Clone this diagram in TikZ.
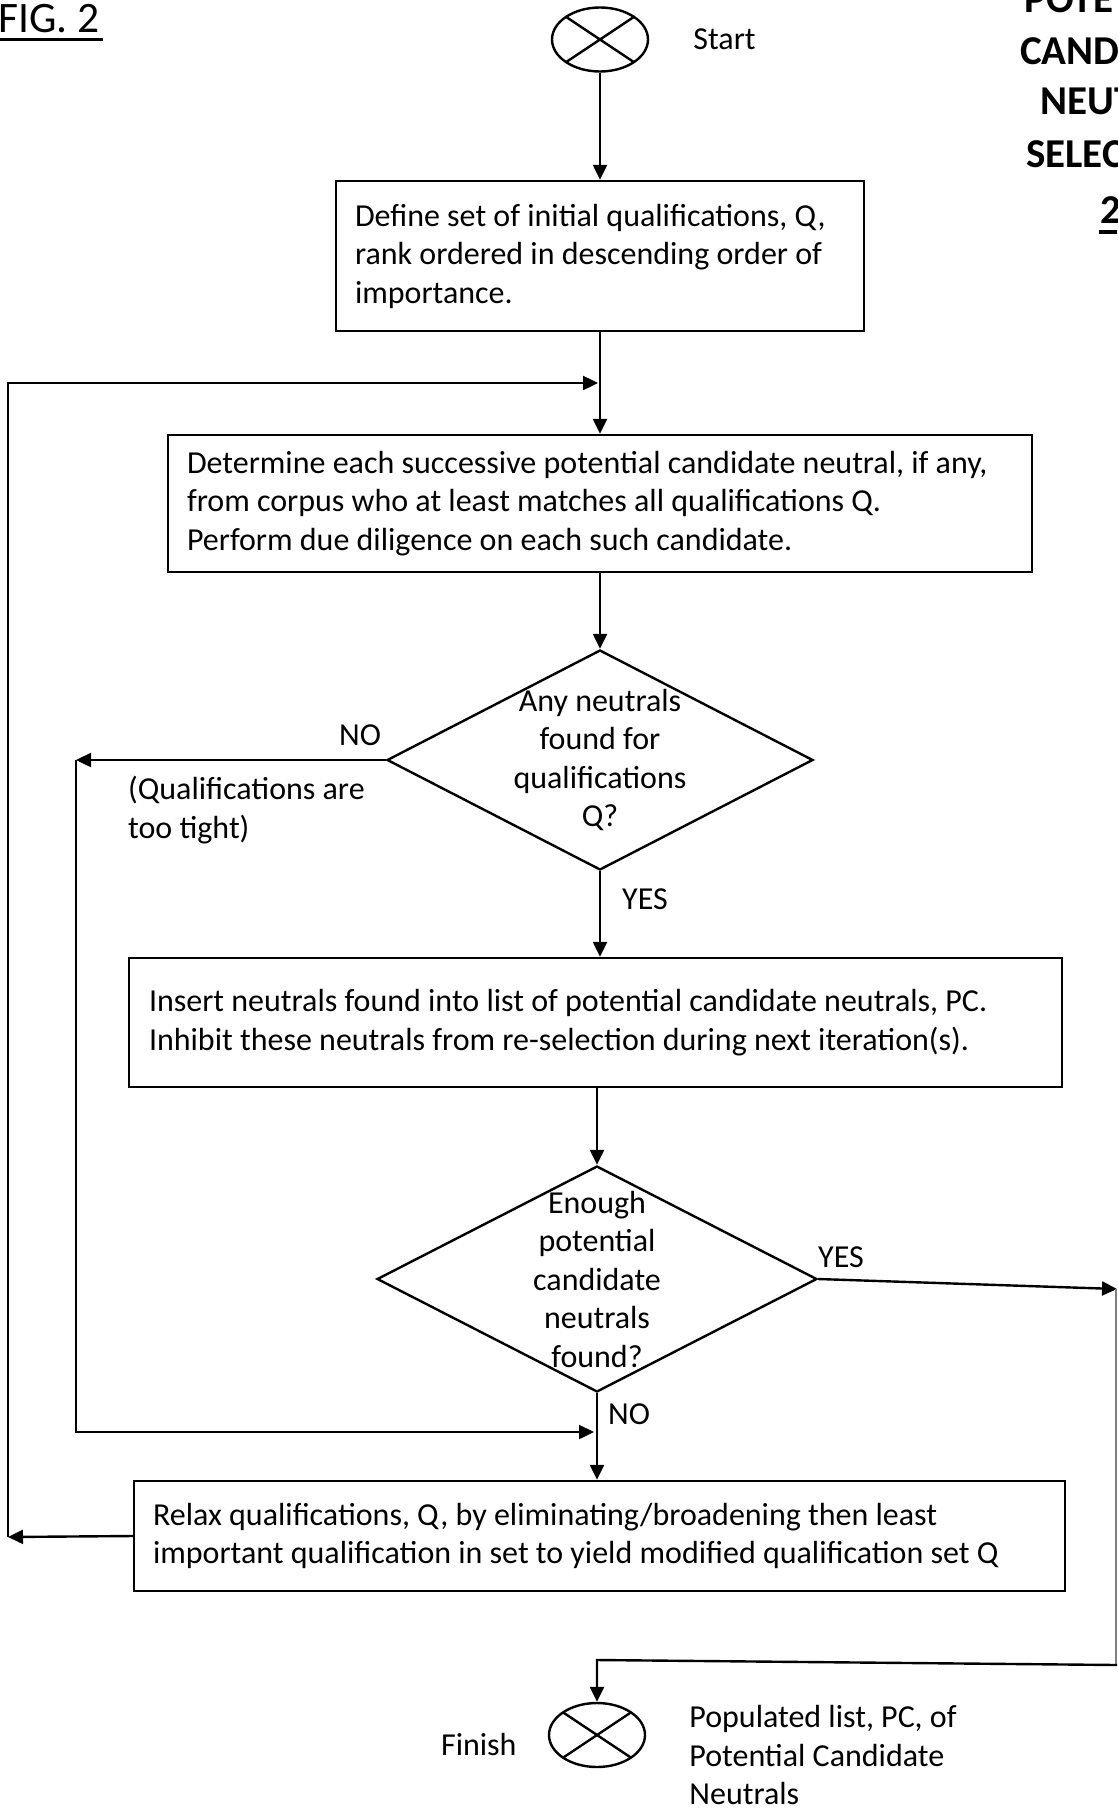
\documentclass[tikz,border=0pt]{standalone}
\usepackage{fontspec}
\setmainfont{Carlito}
\usetikzlibrary{arrows.meta, positioning, shapes.geometric, calc}

\begin{document}
\begin{tikzpicture}[
        x=1pt, y=-1pt,
        line width=2.4pt,
        font=\fontsize{32}{38.5}\selectfont,
        terminal/.style={ellipse, draw, minimum width=96pt, minimum height=64pt,
            inner sep=0pt,
            path picture={\draw (path picture bounding box.north west) -- (path picture bounding box.south east)
                (path picture bounding box.south west) -- (path picture bounding box.north east);}},
        process/.style={rectangle, draw, inner sep=0pt, align=flush left},
        decision/.style={diamond, draw, inner sep=0pt},
        tag/.style={inner sep=0pt},
        title/.style={inner sep=0pt, anchor=base west, font=\fontsize{41}{52}\selectfont\bfseries},
        flow/.style={draw, -{Triangle[length=15pt, width=14pt]}},
    ]
        \useasboundingbox (0,0) rectangle (1117,1809);

        % Headings
        \node[tag, anchor=base east, font=\fontsize{43.5}{52}\selectfont] (fig) at (101,33) {FIG. 2};
        \draw[line width=3pt] (0,40) -- (103,40);
        \node[title] (t1) at (1023,13) {POTE};
        \node[title] (t2) at (1019,65) {CAND};
        \node[title] (t3) at (1039,115) {NEUT};
        \node[title] (t4) at (1025,167) {SELEC};
        \node[title] (t5) at (1099,223) {2};
        \draw[line width=3.5pt] (1099,232) -- (1117,232);

        % Flow nodes
        \node[terminal] (start) at (600,39.5) {};
        \node[tag, right=43pt of start] (startlbl) {Start};
        \node[process, minimum width=528pt, minimum height=150pt, text width=490pt] (define) at (600,256)
            {Define set of initial qualifications, Q,\\rank ordered in descending order of\\importance.};
        \node[process, minimum width=864pt, minimum height=137pt, text width=826pt] (determine) at (600,503.5)
            {Determine each successive potential candidate neutral, if any,\\from corpus who at least matches all qualifications Q.\\Perform due diligence on each such candidate.};
        \node[decision, minimum width=426pt, minimum height=220pt] (anyfound) at (600,760) {};
        \node[tag, align=flush center] (anyfoundtxt) at (anyfound) {Any neutrals\\found for\\qualifications\\Q?};
        \node[process, minimum width=933pt, minimum height=129pt, text width=893pt] (insert) at (595.5,1022.5)
            {Insert neutrals found into list of potential candidate neutrals, PC.\\Inhibit these neutrals from re-selection during next iteration(s).};
        \node[decision, minimum width=440pt, minimum height=226pt] (enough) at (597,1279) {};
        \node[tag, align=flush center] (enoughtxt) at (enough) {Enough\\potential\\candidate\\neutrals\\found?};
        \node[process, minimum width=931pt, minimum height=110pt, text width=893pt] (relax) at (599.5,1536)
            {Relax qualifications, Q, by eliminating/broadening then least\\important qualification in set to yield modified qualification set Q};
        \node[terminal] (finish) at (597,1735) {};
        \node[tag, left=30pt of finish, yshift=-9pt] (finishlbl) {Finish};
        \node[tag, right=42pt of finish, yshift=-20pt, align=flush left] (result) {Populated list, PC, of\\Potential Candidate\\Neutrals};

        % Branch labels
        \node[tag] (no1) at (360,735) {NO};
        \node[tag, anchor=west, align=flush left] (tight) at (127,810) {(Qualifications are\\too tight)};
        \node[tag] (yes1) at (645,899) {YES};
        \node[tag] (yes2) at (841,1257) {YES};
        \node[tag] (no2) at (629,1414) {NO};

        % Turning points
        \coordinate (tightturn) at (76,760);
        \coordinate (rejoin) at (594,1432);
        \coordinate (relaxturn) at (8,1537);
        \coordinate (loopin) at (598,383);
        \coordinate (edgeR) at (1117,1289);
        \coordinate (edgeB) at (1117,1665);
        \coordinate (finturn) at (597,1660);

        % Main line
        \draw[flow] (start) -- (define);
        \draw[flow] (define) -- (determine);
        \draw[flow] (determine) -- (anyfound);
        \draw[flow] (anyfound.south) -- (anyfound.south |- insert.north);
        \draw[flow] (enough.north |- insert.south) -- (enough.north);
        \draw[flow] (enough.south) -- (enough.south |- relax.north);

        % NO from first test
        \draw[flow] (anyfound.west) -- (tightturn);
        \draw[flow] (tightturn) -- (tightturn |- rejoin) -- (rejoin);

        % Loop back after relaxing
        \draw[flow] (relax.west) -- (relaxturn);
        \draw[flow] (relaxturn) -- (relaxturn |- loopin) -- (loopin);

        % YES to finish
        \draw[flow] (enough.east) -- (edgeR);
        \draw[gray, line width=1.2pt] ($(edgeR)+(-1,0)$) -- ($(edgeB)+(-1,0)$);
        \draw[flow] (edgeB) -- (finturn) -- (finish);
    \end{tikzpicture}
\end{document}
